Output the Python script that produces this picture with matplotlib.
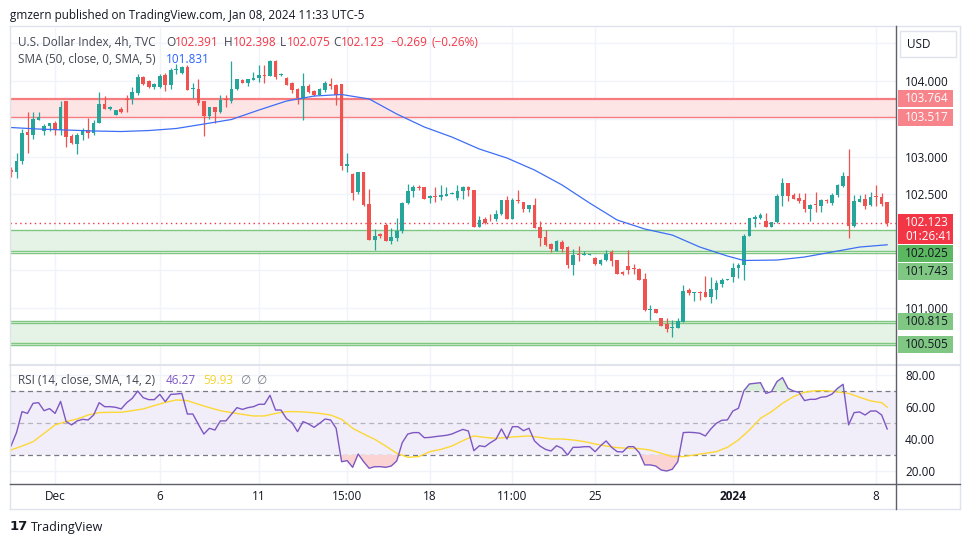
import numpy as np
import matplotlib
matplotlib.use('Agg')
import matplotlib.pyplot as plt
from matplotlib.patches import Rectangle
from matplotlib.lines import Line2D

plt.rcParams['font.family'] = ['Open Sans', 'DejaVu Sans']

W, H = 970, 545

# 4h candles (oldest first)
opens = [102.82, 102.79, 102.94, 103.32, 103.28, 103.49, 103.34, 103.40, 103.45, 103.35,
         103.73, 103.27, 103.16, 103.28, 103.35, 103.31, 103.45, 103.70, 103.63, 103.55,
         103.63, 103.76, 103.76, 103.84, 104.05, 104.00, 103.92, 103.92, 104.08, 103.95,
         104.15, 104.10, 104.19, 103.90, 103.90, 103.73, 103.53, 103.65, 103.59, 103.76,
         103.74, 103.90, 104.01, 103.97, 104.01, 104.04, 104.08, 104.07, 104.26, 104.08,
         104.04, 103.98, 103.90, 103.76, 103.93, 103.87, 103.81, 103.88, 103.96, 103.95,
         103.96, 102.87, 102.77, 102.53, 102.79, 102.37, 101.89, 101.97, 102.09, 101.88,
         101.92, 102.01, 102.39, 102.54, 102.60, 102.59, 102.45, 102.48, 102.47, 102.48,
         102.50, 102.45, 102.54, 102.60, 102.56, 102.07, 102.17, 102.19, 102.17, 102.24,
         102.42, 102.17, 102.42, 102.40, 102.30, 102.36, 102.06, 101.93, 101.84, 101.75,
         101.87, 101.80, 101.56, 101.71, 101.69, 101.70, 101.66, 101.57, 101.63, 101.73,
         101.63, 101.47, 101.55, 101.52, 101.51, 101.38, 100.97, 100.98, 100.86, 100.78,
         100.73, 100.73, 100.81, 101.23, 101.19, 101.21, 101.20, 101.14, 101.23, 101.31,
         101.37, 101.41, 101.52, 101.56, 101.95, 102.17, 102.18, 102.14, 102.07, 102.13,
         102.48, 102.65, 102.49, 102.45, 102.42, 102.30, 102.37, 102.35, 102.42, 102.39,
         102.49, 102.61, 102.74, 102.08, 102.40, 102.44, 102.36, 102.48, 102.47, 102.391]
highs = [102.86, 103.05, 103.36, 103.59, 103.59, 103.59, 103.43, 103.45, 103.47, 103.73,
         103.73, 103.30, 103.31, 103.38, 103.51, 103.48, 103.85, 103.80, 103.67, 103.62,
         103.65, 103.82, 103.92, 104.09, 104.06, 104.01, 103.97, 104.09, 104.10, 104.17,
         104.23, 104.20, 104.21, 103.98, 104.03, 103.74, 103.66, 103.66, 103.82, 103.82,
         104.26, 104.03, 104.02, 104.03, 104.12, 104.21, 104.21, 104.28, 104.28, 104.10,
         104.05, 103.99, 103.91, 104.10, 103.96, 103.88, 103.91, 104.00, 104.04, 103.96,
         103.96, 103.04, 102.78, 102.79, 102.79, 102.57, 102.04, 101.99, 102.12, 102.05,
         102.19, 102.40, 102.63, 102.62, 102.62, 102.60, 102.49, 102.59, 102.62, 102.60,
         102.53, 102.62, 102.61, 102.61, 102.56, 102.21, 102.20, 102.24, 102.29, 102.43,
         102.48, 102.45, 102.55, 102.40, 102.36, 102.45, 102.14, 102.03, 101.85, 101.89,
         101.89, 101.81, 101.78, 101.81, 101.75, 101.71, 101.67, 101.64, 101.76, 101.76,
         101.63, 101.48, 101.76, 101.58, 101.52, 101.46, 101.03, 100.98, 100.86, 100.86,
         100.83, 100.86, 101.30, 101.26, 101.21, 101.22, 101.42, 101.41, 101.36, 101.39,
         101.38, 101.59, 101.59, 101.97, 102.19, 102.22, 102.25, 102.25, 102.13, 102.51,
         102.72, 102.65, 102.52, 102.52, 102.52, 102.37, 102.53, 102.44, 102.44, 102.52,
         102.64, 102.80, 103.10, 102.49, 102.49, 102.50, 102.53, 102.62, 102.52, 102.398]
lows = [102.73, 102.72, 102.90, 103.05, 103.23, 103.49, 103.28, 103.34, 103.28, 103.28,
        103.12, 103.17, 103.03, 103.22, 103.25, 103.28, 103.45, 103.63, 103.62, 103.55,
        103.58, 103.59, 103.70, 103.81, 103.95, 103.91, 103.90, 103.91, 103.87, 103.90,
        104.09, 104.09, 103.88, 103.78, 103.68, 103.27, 103.50, 103.44, 103.58, 103.66,
        103.71, 103.88, 103.97, 103.94, 104.01, 103.99, 103.98, 104.07, 104.03, 104.07,
        103.95, 103.84, 103.69, 103.49, 103.84, 103.80, 103.81, 103.85, 103.90, 103.68,
        102.82, 102.79, 102.42, 102.50, 102.34, 101.89, 101.76, 101.92, 101.88, 101.84,
        101.88, 101.99, 102.37, 102.47, 102.55, 102.44, 102.38, 102.40, 102.43, 102.48,
        102.50, 102.42, 102.44, 102.48, 102.07, 102.07, 102.10, 102.15, 102.15, 102.22,
        102.17, 102.17, 102.39, 102.26, 102.26, 102.05, 101.82, 101.81, 101.74, 101.75,
        101.74, 101.53, 101.43, 101.61, 101.69, 101.69, 101.56, 101.56, 101.62, 101.55,
        101.45, 101.43, 101.45, 101.45, 101.36, 100.95, 100.83, 100.93, 100.76, 100.67,
        100.61, 100.73, 100.81, 101.17, 101.09, 101.10, 101.14, 101.06, 101.11, 101.27,
        101.37, 101.34, 101.39, 101.36, 101.95, 102.06, 102.17, 102.07, 102.07, 102.12,
        102.34, 102.41, 102.44, 102.38, 102.27, 102.15, 102.27, 102.27, 102.39, 102.36,
        102.47, 102.60, 101.92, 102.06, 102.40, 102.31, 102.35, 102.34, 102.34, 102.075]
closes = [102.79, 102.94, 103.31, 103.28, 103.50, 103.52, 103.40, 103.45, 103.35, 103.65,
          103.26, 103.18, 103.28, 103.35, 103.31, 103.45, 103.70, 103.63, 103.65, 103.62,
          103.59, 103.75, 103.85, 104.05, 103.96, 103.92, 103.96, 104.07, 103.95, 104.15,
          104.16, 104.19, 103.88, 103.91, 103.71, 103.54, 103.65, 103.59, 103.75, 103.75,
          103.90, 104.02, 103.98, 104.02, 104.04, 104.08, 104.07, 104.26, 104.05, 104.09,
          103.95, 103.88, 103.77, 103.93, 103.86, 103.81, 103.90, 103.97, 103.93, 103.81,
          102.87, 102.90, 102.52, 102.79, 102.36, 101.89, 101.95, 101.95, 101.88, 101.94,
          102.01, 102.38, 102.54, 102.59, 102.58, 102.44, 102.48, 102.47, 102.49, 102.50,
          102.52, 102.54, 102.59, 102.55, 102.07, 102.16, 102.12, 102.18, 102.24, 102.42,
          102.17, 102.42, 102.41, 102.30, 102.36, 102.05, 101.92, 101.83, 101.77, 101.88,
          101.78, 101.56, 101.70, 101.70, 101.71, 101.71, 101.57, 101.63, 101.71, 101.62,
          101.45, 101.44, 101.50, 101.51, 101.36, 100.97, 100.98, 100.93, 100.76, 100.71,
          100.74, 100.82, 101.22, 101.19, 101.21, 101.19, 101.14, 101.24, 101.33, 101.37,
          101.38, 101.53, 101.56, 101.95, 102.18, 102.20, 102.23, 102.07, 102.13, 102.48,
          102.65, 102.48, 102.44, 102.41, 102.30, 102.36, 102.36, 102.42, 102.41, 102.49,
          102.62, 102.74, 102.08, 102.41, 102.44, 102.34, 102.47, 102.47, 102.37, 102.123]
last_change = -0.269
last_change_pct = -0.26

# SMA(50) sampled at some bars
sma_idx = [0, 5, 10, 15, 20, 25, 30, 35, 40, 45, 50, 55, 60, 65, 70, 75, 80, 85, 90, 95,
           100, 105, 110, 115, 120, 125, 130, 133, 139, 144, 149, 154, 159]
sma_val = [103.384, 103.364, 103.351, 103.338, 103.331, 103.344, 103.371, 103.430, 103.490,
           103.616, 103.735, 103.801, 103.821, 103.762, 103.563, 103.391, 103.258, 103.099,
           102.980, 102.821, 102.623, 102.384, 102.159, 102.040, 101.960, 101.801, 101.682,
           101.623, 101.629, 101.669, 101.735, 101.801, 101.831]

rsi = [35.6, 44.0, 57.1, 56.0, 62.3, 62.7, 57.7, 59.0, 56.0, 63.5,
       50.9, 48.8, 51.3, 52.3, 51.9, 55.0, 62.7, 60.2, 60.2, 59.8,
       58.8, 62.7, 65.4, 70.0, 65.8, 64.6, 64.6, 67.9, 63.3, 67.9,
       68.1, 68.5, 55.6, 55.6, 49.2, 43.1, 46.7, 45.6, 51.3, 51.3,
       55.4, 59.6, 58.5, 59.6, 60.2, 61.7, 61.7, 67.3, 58.1, 58.1,
       52.7, 50.2, 44.6, 50.9, 49.4, 47.3, 49.8, 52.5, 51.9, 46.7,
       25.8, 26.5, 22.3, 30.6, 25.8, 21.7, 22.7, 22.7, 22.3, 23.1,
       26.3, 37.7, 43.1, 44.0, 44.0, 40.8, 41.0, 41.5, 41.9, 42.3,
       43.1, 44.6, 46.0, 45.0, 32.7, 35.8, 35.2, 37.7, 39.8, 46.3,
       40.0, 47.7, 47.7, 45.2, 46.7, 38.8, 35.6, 33.5, 32.5, 35.8,
       34.2, 30.0, 34.8, 34.8, 35.2, 35.2, 32.1, 35.8, 38.8, 34.8,
       32.1, 31.9, 35.2, 35.2, 31.5, 23.8, 23.8, 23.1, 20.6, 20.0,
       21.1, 25.8, 44.0, 44.2, 44.0, 43.6, 41.9, 46.3, 49.8, 51.7,
       51.9, 57.5, 59.2, 70.2, 74.4, 74.8, 75.2, 68.5, 69.6, 75.9,
       78.4, 71.7, 70.0, 69.2, 64.0, 64.8, 64.8, 66.1, 66.5, 68.1,
       71.7, 74.2, 48.8, 56.5, 56.9, 55.0, 57.5, 57.5, 55.0, 46.27]

rsi_ma_idx = list(range(0, 160, 2)) + [159]
rsi_ma = [33.1, 35.6, 38.3, 43.5, 48.8, 50.9, 52.5, 55.0, 56.5, 56.7,
          56.7, 57.7, 58.8, 60.9, 62.9, 64.4, 64.0, 61.7, 59.6, 57.7,
          56.5, 55.4, 54.4, 54.4, 56.0, 57.1, 57.1, 56.7, 56.0, 55.0,
          52.3, 46.7, 43.1, 39.8, 35.6, 31.1, 28.6, 29.0, 32.1, 33.5,
          35.6, 39.0, 41.9, 41.0, 40.4, 41.0, 41.5, 41.9, 41.0, 40.0,
          40.0, 39.4, 38.4, 36.9, 35.6, 34.6, 34.2, 34.0, 33.1, 31.1,
          29.0, 29.0, 30.0, 31.1, 32.1, 34.8, 39.4, 45.6, 52.9, 57.1,
          62.3, 66.5, 69.2, 70.2, 70.2, 69.4, 68.5, 66.1, 63.8, 62.7, 59.93]

date_ticks = [8, 27, 45, 61, 76, 91, 106, 131, 157]
date_labels = ['Dec', '6', '11', '15:00', '18', '11:00', '25', '2024', '8']
price_ticks = [101.0, 102.5, 103.0, 104.0]
price_grid = [100.5, 101.0, 101.5, 102.0, 102.5, 103.0, 103.5, 104.0, 104.5]
rsi_ticks = [20, 40, 60, 80]

red_zone = [103.517, 103.764]
green_zones = [[101.743, 102.025], [100.505, 100.815]]
twin_lines = [101.72, 100.79, 100.53]
last_price = 102.123
countdown = '01:26:41'

GREEN = '#26a69a'
RED = '#ef5350'
GRID = '#f0f3fa'
TXT = '#131722'
GRAY = '#787b86'

fig = plt.figure(figsize=(W / 100, H / 100), dpi=100)
fig.patch.set_facecolor('white')


def fx(x):
    return x / W


def fy(y):
    return 1 - y / H


ax = fig.add_axes([fx(10), fy(364), 886 / W, 336 / H])
rax = fig.add_axes([fx(10), fy(484), 886 / W, 120 / H])
for a in (ax, rax):
    a.set_xlim(-0.18, 160.6)
    a.set_facecolor('none')
    for s in a.spines.values():
        s.set_visible(False)
    a.tick_params(length=0)
    a.yaxis.tick_right()
    for t in date_ticks:
        a.axvline(t, color=GRID, lw=1, zorder=0)
ax.set_ylim(100.252, 104.702)
rax.set_ylim(11.875, 86.875)

# price panel
for g in price_grid:
    ax.axhline(g, color=GRID, lw=1, zorder=0)

ax.axhspan(red_zone[0], red_zone[1], color='#fde4e5', lw=0, zorder=1)
ax.axhline(red_zone[1], color='#f77c80', lw=1.6, zorder=1.5)
ax.axhline(red_zone[0], color='#f77c80', lw=1.0, zorder=1.5)
for lo, hi in green_zones:
    ax.axhspan(lo, hi, color='#e5f3e6', lw=0, zorder=1)
    ax.axhline(lo, color='#81c784', lw=1.0, zorder=1.5)
    ax.axhline(hi, color='#81c784', lw=1.0, zorder=1.5)
for v in twin_lines:
    ax.axhline(v, color='#81c784', lw=1.0, zorder=1.5)

ax.axhline(last_price, color='#f23645', lw=1, ls=(0, (1, 2.5)), zorder=2)

o = np.array(opens)
hh = np.array(highs)
ll = np.array(lows)
c = np.array(closes)
x = np.arange(len(o))
cols = np.where(c >= o, GREEN, RED)
ax.vlines(x, ll, hh, colors=cols, lw=0.9, zorder=3)
body = np.maximum(np.abs(c - o), 0.012)
ax.bar(x, body, bottom=np.minimum(o, c), width=0.66, color=cols, lw=0, zorder=3)

ax.plot(sma_idx, sma_val, color='#3d6ef5', lw=0.9, zorder=4)

ax.set_xticks([])
ax.set_yticks(price_ticks, [f'{v:.3f}' for v in price_ticks])
ax.tick_params(axis='y', pad=6.5, labelsize=8.5, labelcolor=TXT)

# RSI panel
for g in rsi_ticks:
    rax.axhline(g, color=GRID, lw=1, zorder=0)
rax.axhspan(30, 70, color='#f1edf9', lw=0, zorder=0.5)
rax.axhline(70, color=GRAY, lw=0.9, ls=(0, (4, 3)), zorder=1)
rax.axhline(30, color=GRAY, lw=0.9, ls=(0, (4, 3)), zorder=1)
rax.axhline(50, color='#b2b5be', lw=0.9, ls=(0, (4, 3)), zorder=1)
r = np.array(rsi)
xr = np.arange(len(r))
rax.fill_between(xr, r, 70, where=r > 70, interpolate=True, color='#d9efdb', lw=0, zorder=1.5)
rax.fill_between(xr, r, 30, where=r < 30, interpolate=True, color='#fbd3d3', lw=0, zorder=1.5)
rax.plot(rsi_ma_idx, rsi_ma, color='#fdd835', lw=1.0, zorder=2)
rax.plot(xr, r, color='#7e57c2', lw=1.0, zorder=3)
rax.set_yticks(rsi_ticks, [f'{v:.2f}' for v in rsi_ticks])
rax.tick_params(axis='y', pad=6.5, labelsize=8.5, labelcolor=TXT)
rax.set_xticks(date_ticks, date_labels)
rax.tick_params(axis='x', pad=4, labelsize=8.5, labelcolor=TXT)
for t in rax.get_xticklabels():
    if t.get_text() == '2024':
        t.set_fontweight('bold')

# frame lines
def hline(y, x0, x1, color, lw):
    fig.add_artist(Line2D([fx(x0), fx(x1)], [fy(y), fy(y)], color=color, lw=lw))


def vline(xp, y0, y1, color, lw):
    fig.add_artist(Line2D([fx(xp), fx(xp)], [fy(y0), fy(y1)], color=color, lw=lw))


hline(26, 10, 960, '#e0e3eb', 1)
hline(509, 10, 960, '#e0e3eb', 1)
vline(10, 26, 509, '#e0e3eb', 1)
vline(960, 26, 509, '#e0e3eb', 1)
hline(364.5, 10, 960, '#e0e3eb', 1.5)
hline(484, 10, 960, '#5d606b', 1)
vline(896, 26, 509, '#5d606b', 1)

# USD box
fig.add_artist(Rectangle((fx(900), fy(57)), 56 / W, 26 / H, transform=fig.transFigure,
                         facecolor='white', edgecolor='#e0e3eb', lw=1))
fig.text(fx(907), fy(44), 'USD', fontsize=8.5, color=TXT, va='center')


# price labels on the right scale
def py(p):
    return H - ax.transData.transform((0, p))[1]


scale_items = [(red_zone[1], 'zone_r'), (red_zone[0], 'zone_r'), (last_price, 'last'),
               (green_zones[0][1], 'zone_g2'), (green_zones[0][0], 'zone_g'),
               (green_zones[1][1], 'zone_g'), (green_zones[1][0], 'zone_g')]
prev_bottom = -1e9
for p, kind in scale_items:
    hgt = 30 if kind == 'last' else 17
    top = py(p) - 8.5
    top = max(top, prev_bottom + 1)
    face = {'zone_r': '#f7848a', 'last': '#f23645', 'zone_g2': '#5cb860', 'zone_g': '#81c784'}[kind]
    tc = 'white' if kind in ('zone_r', 'last') else TXT
    fig.add_artist(Rectangle((fx(898), fy(top + hgt)), 55 / W, hgt / H, transform=fig.transFigure,
                             facecolor=face, edgecolor='none'))
    fig.text(fx(905), fy(top + 8.5), f'{p:.3f}', fontsize=8.5, color=tc, va='center')
    if kind == 'last':
        fig.text(fx(905), fy(top + 22), countdown, fontsize=8.5, color=tc, va='center')
    prev_bottom = top + hgt

# header and legends
fig.text(fx(10), fy(15), 'gmzern published on TradingView.com, Jan 08, 2024 11:33 UTC-5',
         fontsize=8.5, color=TXT, va='center')

legend1 = [(18, 'U.S. Dollar Index, 4h, TVC', '#434651'), (166, 'O', '#434651'),
           (175, f'{opens[-1]:.3f}', '#f23645'), (224, 'H', '#434651'),
           (233, f'{highs[-1]:.3f}', '#f23645'), (280, 'L', '#434651'),
           (287, f'{lows[-1]:.3f}', '#f23645'), (333, 'C', '#434651'),
           (341, f'{closes[-1]:.3f}', '#f23645'),
           (390, f'{last_change:.3f}'.replace('-', '\u2212'), '#f23645'),
           (432, f'({last_change_pct:.2f}%)'.replace('-', '\u2212'), '#f23645')]
for xp, s, col in legend1:
    fig.text(fx(xp), fy(42), s, fontsize=8.5, color=col, va='center')
fig.text(fx(18), fy(59), 'SMA (50, close, 0, SMA, 5)', fontsize=8.5, color='#434651', va='center')
fig.text(fx(166), fy(59), f'{sma_val[-1]:.3f}', fontsize=8.5, color='#2962ff', va='center')

rsi_legend = [(18, 'RSI (14, close, SMA, 14, 2)', '#434651'), (166, f'{rsi[-1]:.2f}', '#7e57c2'),
              (203, f'{rsi_ma[-1]:.2f}', '#f5d42a'), (240, '\u2205', GRAY), (256, '\u2205', GRAY)]
for xp, s, col in rsi_legend:
    fig.text(fx(xp), fy(381), s, fontsize=8.5, color=col, va='center')

# footer
fig.text(fx(10), fy(527), '17', fontsize=9.5, fontweight='bold', color=TXT, va='center',
         family='DejaVu Sans')
fig.text(fx(31), fy(527), 'TradingView', fontsize=9, color=TXT, va='center')

fig.savefig('out.png', dpi=100)
